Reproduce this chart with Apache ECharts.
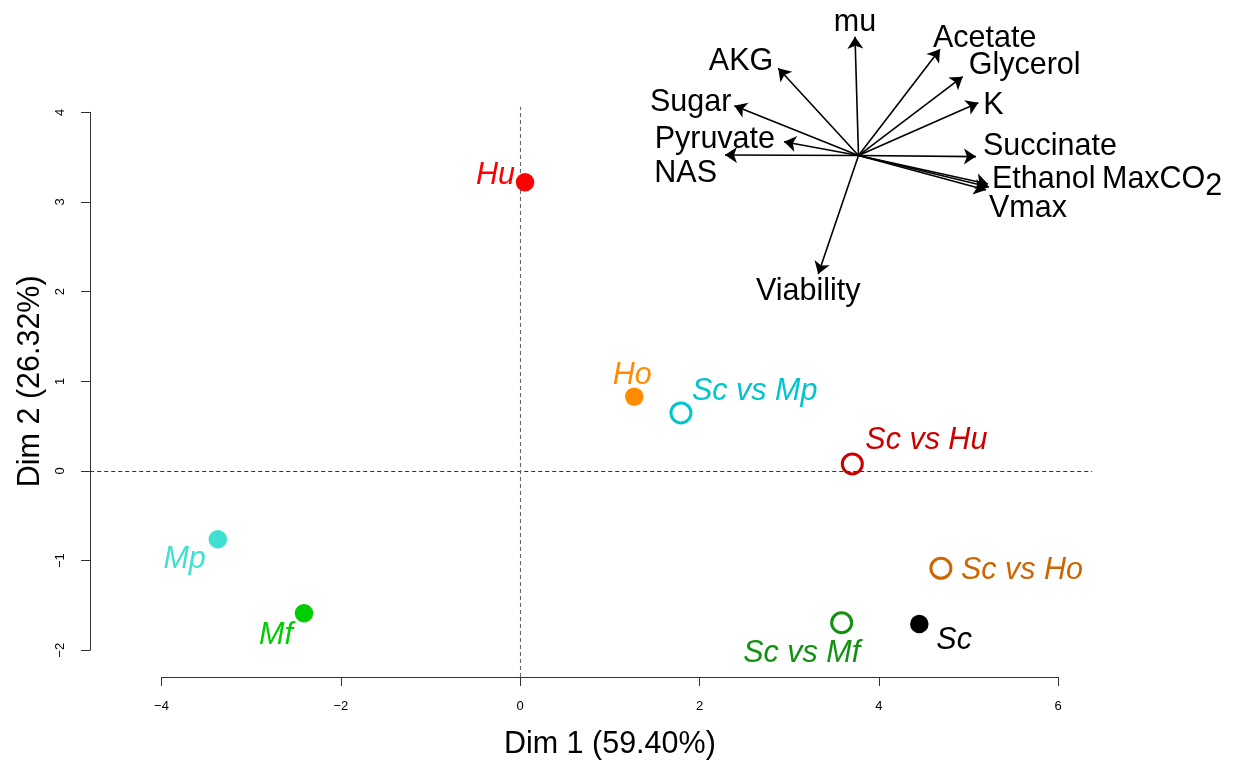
<!DOCTYPE html>
<html>
<head>
<meta charset="utf-8">
<script src="https://cdn.jsdelivr.net/npm/echarts@6/dist/echarts.min.js"></script>
<style>
html,body{margin:0;padding:0;background:#fff;}
#main{width:1235px;height:761px;}
</style>
</head>
<body>
<div id="main"></div>
<script>
// ---- Individuals (PCA scores) ----
const individuals = ['Hu', 'Ho', 'Mp', 'Mf', 'Sc', 'Sc vs Mp', 'Sc vs Hu', 'Sc vs Ho', 'Sc vs Mf'];
const indDim1 = [0.054, 1.272, -3.372, -2.411, 4.451, 1.793, 3.704, 4.692, 3.585];
const indDim2 = [3.220, 0.829, -0.762, -1.587, -1.706, 0.647, 0.078, -1.085, -1.692];

// ---- Variables (arrow tips, same scale as plot) ----
const variables = ['mu', 'Acetate', 'Glycerol', 'K', 'Succinate', 'Ethanol', 'MaxCO2', 'Vmax', 'Viability', 'NAS', 'Pyruvate', 'Sugar', 'AKG'];
const varDim1 = [3.734, 4.682, 4.935, 5.109, 5.083, 5.217, 5.228, 5.195, 3.324, 2.284, 2.942, 2.388, 2.878];
const varDim2 = [4.843, 4.703, 4.397, 4.107, 3.506, 3.201, 3.167, 3.134, 2.197, 3.524, 3.672, 4.074, 4.491];
const arrowOrigin = [3.773, 3.518];

// ---- Axes ----
const xTickRange = [-4, 6];
const yTickRange = [-2, 4];
const plotExtentX = [-4.795, 6.379];
const plotExtentY = [-2.297, 4.063];
const xTitle = 'Dim 1 (59.40%)';
const yTitle = 'Dim 2 (26.32%)';

// ---- Styles (not data) ----
const FONT = '"Liberation Sans", Arial, Helvetica, sans-serif';
const BIG = 30.5;
const DY = 4;
const indStyle = {
  'Hu':       {color: '#FF0000', filled: true,  align: 'right',  off: [-10, -11]},
  'Ho':       {color: '#FF8C00', filled: true,  align: 'center', off: [-2, -25]},
  'Mp':       {color: '#40E0D0', filled: true,  align: 'right',  off: [-12, 16]},
  'Mf':       {color: '#00CD00', filled: true,  align: 'right',  off: [-11, 18]},
  'Sc':       {color: '#000000', filled: true,  align: 'left',   off: [17, 13]},
  'Sc vs Mp': {color: '#00C5CD', filled: false, align: 'left',   off: [11, -25]},
  'Sc vs Hu': {color: '#CD0000', filled: false, align: 'left',   off: [13, -27]},
  'Sc vs Ho': {color: '#CD6600', filled: false, align: 'left',   off: [20, -2]},
  'Sc vs Mf': {color: '#119111', filled: false, align: 'center', off: [-40, 27]}
};
const varLabelStyle = {
  'mu':        {align: 'center', off: [0, -18]},
  'Acetate':   {align: 'left',   off: [-7, -15]},
  'Glycerol':  {align: 'left',   off: [6, -15]},
  'K':         {align: 'left',   off: [5, -1]},
  'Succinate': {align: 'left',   off: [7, -14]},
  'Ethanol':   {align: 'left',   off: [4, -8]},
  'MaxCO2':    {align: 'left',   off: [113, -11]},
  'Vmax':      {align: 'left',   off: [3, 15]},
  'Viability': {align: 'center', off: [-10, 14]},
  'NAS':       {align: 'right',  off: [-8, 15]},
  'Pyruvate':  {align: 'right',  off: [-9, -6]},
  'Sugar':     {align: 'right',  off: [-3, -7]},
  'AKG':       {align: 'right',  off: [-5, -11]}
};

const minus = v => (v < 0 ? '\u2212' + Math.abs(v) : String(v));

const indData = individuals.map((name, i) => {
  const s = indStyle[name];
  return {
    name: name,
    value: [indDim1[i], indDim2[i]],
    symbolSize: s.filled ? 18.5 : 20,
    itemStyle: s.filled
      ? {color: s.color, borderWidth: 0, opacity: 1}
      : {color: 'rgba(255,255,255,0)', borderColor: s.color, borderWidth: 3, opacity: 1},
    label: {
      show: true, position: 'inside', formatter: name,
      align: s.align, verticalAlign: 'middle', offset: [s.off[0], s.off[1] + DY],
      color: s.color, fontStyle: 'italic', fontSize: BIG, fontFamily: FONT
    }
  };
});

const arrowData = variables.map((name, i) => ({
  name: name,
  coords: [arrowOrigin, [varDim1[i], varDim2[i]]]
}));

const varLabelData = variables.map((name, i) => {
  const s = varLabelStyle[name];
  const lab = {
    show: true, position: 'inside', align: s.align, verticalAlign: 'middle',
    offset: [s.off[0], s.off[1] + DY], color: '#000', fontSize: BIG, fontFamily: FONT,
    formatter: name
  };
  if (name === 'MaxCO2') {
    lab.formatter = '{a|MaxCO}{s|2}';
    lab.rich = {
      a: {fontSize: BIG, fontFamily: FONT, color: '#000'},
      s: {fontSize: BIG, fontFamily: FONT, color: '#000', padding: [14, 0, 0, 0]}
    };
  }
  return {name: name, value: [varDim1[i], varDim2[i]], label: lab};
});

const refLines = [
  {coords: [[plotExtentX[0], 0], [plotExtentX[1], 0]], lineStyle: {color: '#333'}},
  {coords: [[0, plotExtentY[0]], [0, plotExtentY[1]]], lineStyle: {color: '#666'}}
];

const chart = echarts.init(document.getElementById('main'), null, {renderer: 'canvas'});
chart.setOption({
  animation: false,
  backgroundColor: '#ffffff',
  textStyle: {fontFamily: FONT},
  grid: {left: 161.5, right: 176.8, top: 112.3, bottom: 110.7, containLabel: false, outerBoundsMode: 'none'},
  xAxis: {
    type: 'value', min: xTickRange[0], max: xTickRange[1], interval: 2, offset: 26.7,
    axisLine: {show: true, onZero: false, lineStyle: {color: '#333', width: 1}},
    axisTick: {show: true, length: 9, lineStyle: {color: '#333', width: 1}},
    axisLabel: {fontSize: 13, color: '#000', margin: 23, fontFamily: FONT, formatter: minus},
    splitLine: {show: false},
    name: xTitle, nameLocation: 'middle', nameGap: 52,
    nameTextStyle: {fontSize: BIG, color: '#000', fontFamily: FONT}
  },
  yAxis: {
    type: 'value', min: yTickRange[0], max: yTickRange[1], interval: 1, offset: 71.5,
    axisLine: {show: true, onZero: false, lineStyle: {color: '#333', width: 1}},
    axisTick: {show: true, length: 9, lineStyle: {color: '#333', width: 1}},
    axisLabel: {fontSize: 13, color: '#000', margin: 23, rotate: 90, fontFamily: FONT, formatter: minus},
    splitLine: {show: false},
    name: yTitle, nameLocation: 'middle', nameGap: 44,
    nameTextStyle: {fontSize: BIG, color: '#000', fontFamily: FONT}
  },
  series: [
    {
      type: 'lines', coordinateSystem: 'cartesian2d', clip: false, silent: true,
      symbol: 'none',
      lineStyle: {color: '#444', width: 1.1, type: [4, 3], opacity: 1},
      data: refLines
    },
    {
      type: 'lines', coordinateSystem: 'cartesian2d', clip: false, silent: true,
      symbol: ['none', 'arrow'], symbolSize: 12,
      lineStyle: {color: '#000', width: 1.6, opacity: 1},
      data: arrowData
    },
    {
      type: 'scatter', clip: false, silent: true, symbolSize: 1,
      itemStyle: {color: 'rgba(0,0,0,0)', opacity: 1},
      data: varLabelData
    },
    {
      type: 'scatter', clip: false, silent: true,
      itemStyle: {opacity: 1},
      data: indData
    }
  ]
});
</script>
</body>
</html>
